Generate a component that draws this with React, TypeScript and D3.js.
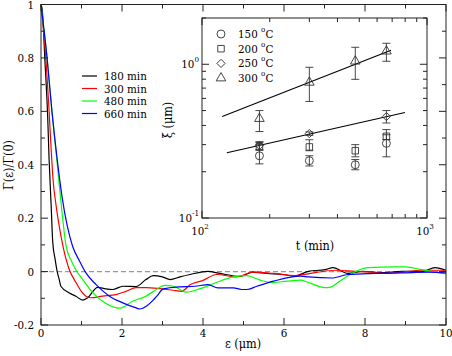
import React, { useRef, useEffect } from "react";
import * as d3 from "d3";

// correlation curves, eps in um
const eps180 = [0, 0.03, 0.1, 0.165, 0.2, 0.25, 0.29, 0.35, 0.4, 0.45, 0.49, 0.7, 0.86, 1.03, 1.15, 1.4, 1.6, 1.77, 2.02, 2.35, 2.59, 2.77, 3.0, 3.19, 3.43, 3.68, 4.12, 4.42, 4.91, 5.23, 5.58, 5.98, 6.27, 6.6, 7.01, 7.21, 7.58, 7.93, 8.42, 8.91, 9.41, 9.73, 10];
const gam180 = [1, 0.98, 0.78, 0.58, 0.42, 0.25, 0.11, 0.045, 0.0, -0.03, -0.055, -0.08, -0.092, -0.107, -0.098, -0.059, -0.065, -0.067, -0.055, -0.056, -0.03, -0.015, -0.02, -0.03, -0.02, -0.011, 0.001, -0.007, -0.018, -0.002, -0.007, -0.011, -0.017, 0.001, 0.007, 0.015, -0.007, 0.001, -0.004, 0.001, 0, 0.015, 0.005];

const eps300 = [0, 0.1, 0.2, 0.25, 0.3, 0.37, 0.45, 0.55, 0.7, 0.86, 1.0, 1.11, 1.23, 1.52, 1.85, 2.1, 2.35, 2.6, 2.94, 3.26, 3.47, 3.68, 4.0, 4.34, 4.83, 5.23, 5.73, 6.27, 6.77, 7.26, 7.75, 8.17, 8.57, 8.91, 9.41, 9.9, 10];
const gam300 = [1, 0.84, 0.6, 0.46, 0.34, 0.25, 0.17, 0.09, 0.007, -0.04, -0.075, -0.092, -0.098, -0.092, -0.086, -0.074, -0.06, -0.06, -0.064, -0.07, -0.074, -0.049, -0.033, -0.011, -0.02, -0.002, -0.007, -0.015, -0.004, 0.005, 0.001, -0.002, -0.007, -0.002, 0.005, 0.005, 0.0];

const eps480 = [0, 0.15, 0.27, 0.39, 0.5, 0.62, 0.75, 0.86, 1.03, 1.28, 1.52, 1.85, 1.95, 2.26, 2.59, 2.77, 3.06, 3.27, 3.6, 3.93, 4.34, 4.75, 5.08, 5.41, 5.73, 6.07, 6.4, 6.6, 7.01, 7.15, 7.33, 7.67, 8.07, 8.74, 9.0, 9.4, 10];
const gam480 = [1, 0.8, 0.6, 0.42, 0.25, 0.095, 0.04, 0.007, -0.03, -0.079, -0.111, -0.135, -0.137, -0.111, -0.092, -0.075, -0.052, -0.055, -0.077, -0.064, -0.04, -0.02, -0.015, -0.032, -0.041, -0.036, -0.032, -0.041, -0.06, -0.058, -0.041, -0.007, 0.015, 0.018, 0.018, 0.007, -0.009];

const eps660 = [0, 0.15, 0.27, 0.4, 0.52, 0.65, 0.78, 0.95, 1.11, 1.36, 1.69, 2.02, 2.35, 2.44, 2.53, 2.77, 2.86, 3.02, 3.43, 3.8, 4.12, 4.37, 4.75, 4.95, 5.08, 5.33, 5.74, 6.4, 6.6, 7.18, 7.58, 8.25, 8.9, 9.56, 10];
const gam660 = [1, 0.8, 0.6, 0.42, 0.28, 0.17, 0.095, 0.04, -0.005, -0.049, -0.092, -0.117, -0.136, -0.14, -0.136, -0.107, -0.092, -0.065, -0.057, -0.055, -0.049, -0.061, -0.061, -0.067, -0.067, -0.055, -0.036, -0.017, -0.02, -0.024, -0.011, -0.007, -0.005, -0.002, -0.005];

const curveLabels = ["180 min", "300 min", "480 min", "660 min"];
const curveColors = ["#000000", "#ff0000", "#00ff00", "#0000ff"];

// inset: correlation length vs time
const times = [180, 300, 480, 660];
const tempLabels = ["150", "200", "250", "300"];
const xi150 = [0.254, 0.236, 0.222, 0.306];
const lo150 = [0.225, 0.218, 0.206, 0.25];
const hi150 = [0.3, 0.254, 0.24, 0.348];
const xi200 = [0.291, 0.29, 0.274, 0.34];
const lo200 = [0.276, 0.274, 0.25, 0.324];
const hi200 = [0.31, 0.323, 0.3, 0.376];
const xi250 = [0.296, 0.354, null, 0.457];
const lo250 = [0.278, 0.345, null, 0.415];
const hi250 = [0.314, 0.363, null, 0.5];
const xi300 = [0.443, 0.762, 1.046, 1.216];
const lo300 = [0.365, 0.573, 0.798, 1.046];
const hi300 = [0.5, 0.956, 1.29, 1.37];

const fitT300 = [123, 692];
const fitXi300 = [0.457, 1.235];
const fitT250 = [129, 798];
const fitXi250 = [0.266, 0.485];

const xTicks = [0, 2, 4, 6, 8, 10];
const yTicks = [-0.2, 0, 0.2, 0.4, 0.6, 0.8, 1];
const yTickLabels = ["-0.2", "0", "0.2", "0.4", "0.6", "0.8", "1"];

const FONT = "'DejaVu Serif Condensed', 'DejaVu Serif', serif";

function App() {
  const svgRef = useRef(null);

  useEffect(() => {
    const svg = d3.select(svgRef.current);
    svg.selectAll("*").remove();

    const x = d3.scaleLinear().domain([0, 10]).range([41, 446]);
    const y = d3.scaleLinear().domain([-0.2, 1]).range([325, 4.5]);

    const g = svg.append("g").attr("fill", "#000");
    const txt = (px: number, py: number, size: number, anchor = "start") =>
      g.append("text")
        .attr("x", px).attr("y", py)
        .attr("text-anchor", anchor)
        .attr("font-family", FONT)
        .attr("font-stretch", "condensed")
        .attr("font-size", size);

    // zero line
    g.append("line")
      .attr("x1", x(0)).attr("x2", x(10))
      .attr("y1", y(0)).attr("y2", y(0))
      .attr("stroke", "#999").attr("stroke-dasharray", "5,3").attr("stroke-width", 1.2);

    const line = d3.line<[number, number]>().x((d) => x(d[0])).y((d) => y(d[1])).curve(d3.curveMonotoneX);
    const series = [
      [eps180, gam180],
      [eps300, gam300],
      [eps480, gam480],
      [eps660, gam660],
    ];
    series.forEach(([xs, ys], i) => {
      const pts = xs.map((v, j) => [v, ys[j]] as [number, number]);
      g.append("path")
        .attr("d", line(pts))
        .attr("fill", "none")
        .attr("stroke", curveColors[i])
        .attr("stroke-width", 1.2);
    });

    // main frame + ticks
    const axisCol = "#222";
    g.append("rect")
      .attr("x", x(0)).attr("y", y(1))
      .attr("width", x(10) - x(0)).attr("height", y(-0.2) - y(1))
      .attr("fill", "none").attr("stroke", axisCol);

    d3.range(0, 11, 1).forEach((v) => {
      const len = v % 2 === 0 ? 7 : 4;
      g.append("line").attr("x1", x(v)).attr("x2", x(v)).attr("y1", y(-0.2)).attr("y2", y(-0.2) - len).attr("stroke", axisCol);
      g.append("line").attr("x1", x(v)).attr("x2", x(v)).attr("y1", y(1)).attr("y2", y(1) + len).attr("stroke", axisCol);
    });
    d3.range(-2, 11, 1).forEach((k) => {
      const v = k / 10;
      const len = k % 2 === 0 ? 7 : 4;
      g.append("line").attr("x1", x(0)).attr("x2", x(0) + len).attr("y1", y(v)).attr("y2", y(v)).attr("stroke", axisCol);
      g.append("line").attr("x1", x(10)).attr("x2", x(10) - len).attr("y1", y(v)).attr("y2", y(v)).attr("stroke", axisCol);
    });

    xTicks.forEach((v) => {
      txt(x(v), 337, 11.5, "middle").text(String(v));
    });
    yTicks.forEach((v, i) => {
      txt(34, y(v) + 4, 11.5, "end").text(yTickLabels[i]);
    });

    txt(243, 348, 12.5, "middle").text("ε (μm)");
    txt(0, 0, 12.5, "middle")
      .attr("transform", "translate(13,165) rotate(-90)")
      .text("Γ(ε)/Γ(0)");

    // legend
    curveLabels.forEach((lab, i) => {
      const ly = 76 + i * 12.5;
      g.append("line").attr("x1", 82).attr("x2", 97).attr("y1", ly).attr("y2", ly).attr("stroke", curveColors[i]).attr("stroke-width", 1.2);
      txt(104, ly + 4, 11.5).text(lab);
    });

    // inset
    const xi = d3.scaleLog().domain([100, 1000]).range([202, 427]);
    const yi = d3.scaleLog().domain([0.1, 2]).range([218, 18]);

    g.append("rect")
      .attr("x", xi(100)).attr("y", yi(2))
      .attr("width", xi(1000) - xi(100)).attr("height", yi(0.1) - yi(2))
      .attr("fill", "#fff").attr("stroke", axisCol);

    const xMinor = d3.range(1, 11).map((k) => k * 100);
    xMinor.forEach((v) => {
      const len = v === 100 || v === 1000 ? 7 : 4;
      g.append("line").attr("x1", xi(v)).attr("x2", xi(v)).attr("y1", yi(0.1)).attr("y2", yi(0.1) - len).attr("stroke", axisCol);
      g.append("line").attr("x1", xi(v)).attr("x2", xi(v)).attr("y1", yi(2)).attr("y2", yi(2) + len).attr("stroke", axisCol);
    });
    const yMinor = [0.1, 0.2, 0.3, 0.4, 0.5, 0.6, 0.7, 0.8, 0.9, 1, 2];
    yMinor.forEach((v) => {
      const len = v === 0.1 || v === 1 ? 7 : 4;
      g.append("line").attr("x1", xi(100)).attr("x2", xi(100) + len).attr("y1", yi(v)).attr("y2", yi(v)).attr("stroke", axisCol);
      g.append("line").attr("x1", xi(1000)).attr("x2", xi(1000) - len).attr("y1", yi(v)).attr("y2", yi(v)).attr("stroke", axisCol);
    });

    const powLabel = (px: number, py: number, exp: string, anchor: string) => {
      const t = txt(px, py, 11.5, anchor);
      t.append("tspan").text("10");
      t.append("tspan").attr("dy", -6).attr("font-size", 8).text(exp);
    };
    powLabel(199, yi(1) + 4, "0", "end");
    powLabel(199, yi(0.1) + 4, "-1", "end");
    powLabel(xi(100) - 2, 235, "2", "middle");
    powLabel(xi(1000) - 2, 235, "3", "middle");

    txt(315, 250, 12.5, "middle").text("t (min)");
    txt(0, 0, 12.5, "middle")
      .attr("transform", "translate(172,120) rotate(-90)")
      .text("ξ (μm)");

    // fit lines
    [[fitT300, fitXi300], [fitT250, fitXi250]].forEach(([ts, vs]) => {
      g.append("line")
        .attr("x1", xi(ts[0])).attr("y1", yi(vs[0]))
        .attr("x2", xi(ts[1])).attr("y2", yi(vs[1]))
        .attr("stroke", "#000").attr("stroke-width", 1.1);
    });

    const shapes = [
      d3.symbol().type(d3.symbolCircle).size(50),
      d3.symbol().type(d3.symbolSquare).size(42),
      d3.symbol().type(d3.symbolSquare).size(34),
      d3.symbol().type(d3.symbolTriangle).size(40),
    ];
    const rot = [0, 0, 45, 0];
    const sets = [
      [xi150, lo150, hi150],
      [xi200, lo200, hi200],
      [xi250, lo250, hi250],
      [xi300, lo300, hi300],
    ];
    sets.forEach(([vals, lo, hi], s) => {
      times.forEach((t, j) => {
        const v = vals[j];
        if (v == null) return;
        const cx = xi(t);
        const l = lo[j] as number;
        const h = hi[j] as number;
        g.append("line").attr("x1", cx).attr("x2", cx).attr("y1", yi(l)).attr("y2", yi(h)).attr("stroke", "#333").attr("stroke-width", 0.9);
        [l, h].forEach((e) => {
          g.append("line").attr("x1", cx - 4).attr("x2", cx + 4).attr("y1", yi(e)).attr("y2", yi(e)).attr("stroke", "#333").attr("stroke-width", 0.9);
        });
        g.append("path")
          .attr("d", shapes[s]())
          .attr("transform", `translate(${cx},${yi(v)}) rotate(${rot[s]})`)
          .attr("fill", "none").attr("stroke", "#333").attr("stroke-width", 0.9);
      });
    });

    // inset legend
    tempLabels.forEach((lab, i) => {
      const ly = 34 + i * 14.7;
      g.append("path")
        .attr("d", shapes[i]())
        .attr("transform", `translate(221,${ly}) rotate(${rot[i]})`)
        .attr("fill", "none").attr("stroke", "#333").attr("stroke-width", 0.9);
      const t = txt(238, ly + 4, 11.5);
      t.append("tspan").text(lab + " ");
      t.append("tspan").attr("dy", -6).attr("font-size", 8).text("o");
      t.append("tspan").attr("dy", 6).text("C");
    });
  }, []);

  return (
    <svg
      ref={svgRef}
      width={452}
      height={356}
      style={{ position: "absolute", left: 0, top: 0, background: "#fff" }}
    ></svg>
  );
}

export default App;
